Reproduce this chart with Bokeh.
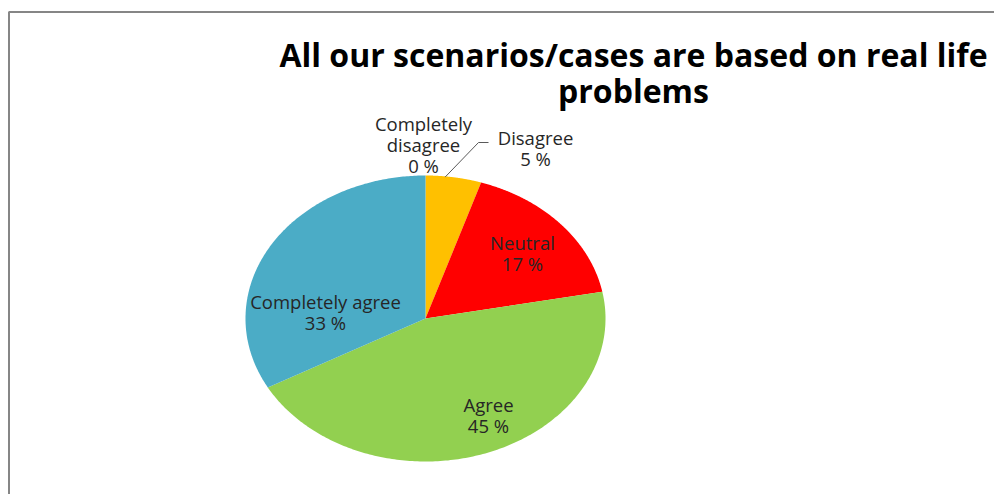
import numpy as np
from bokeh.plotting import figure
from bokeh.models import Range1d
from bokeh.core.properties import value
from bokeh.embed import file_html
from bokeh.resources import INLINE

# ---- data ----
categories = ["Completely disagree", "Disagree", "Neutral", "Agree", "Completely agree"]
percents = [0, 5, 17, 45, 33]
colors = ["#7F7F7F", "#FFC000", "#FF0000", "#92D050", "#4BACC6"]
title_lines = ["All our scenarios/cases are based on real life", "problems"]

# ---- layout ----
W, H = 994, 494
CX, CY, RX, RY = 425, 318, 180, 143
label_pos = {
    "Completely disagree": (423, 144),
    "Disagree": (535, 147),
    "Neutral": (522, 252),
    "Agree": (488, 414),
    "Completely agree": (325, 311),
}

p = figure(width=W, height=H, output_backend="svg", toolbar_location=None,
           x_range=Range1d(0, W), y_range=Range1d(H, 0), min_border=0)
p.axis.visible = False
p.grid.visible = False
p.outline_line_color = None
p.background_fill_color = "white"
p.border_fill_color = "white"

# outer chart border (right/bottom edges fall outside the window)
p.quad(left=[8.5], right=[W + 50], top=[11.5], bottom=[H + 50],
       fill_color=None, line_color="#868686", line_width=2)

# pie slices as elliptical patches
total = float(sum(percents))
cum = np.concatenate([[0], np.cumsum(percents)]) / total
xs, ys, cs = [], [], []
for i, pct in enumerate(percents):
    if pct == 0:
        continue
    th = np.linspace(cum[i], cum[i + 1], 200) * 2 * np.pi
    px = np.concatenate([[CX], CX + RX * np.sin(th)])
    py = np.concatenate([[CY], CY - RY * np.cos(th)])
    xs.append(list(px)); ys.append(list(py)); cs.append(colors[i])
p.patches(xs=xs, ys=ys, fill_color=cs, line_color=None)

# leader line for Disagree
th_d = (cum[1] + 0.35 * (cum[2] - cum[1])) * 2 * np.pi
p.line(x=[CX + RX * np.sin(th_d) * 0.995, 478, 488],
       y=[CY - RY * np.cos(th_d) * 0.995, 142, 142], line_color="#595959", line_width=1)

# data labels
lx, ly, lt = [], [], []
for c, v in zip(categories, percents):
    name = c.replace("Completely disagree", "Completely\ndisagree")
    lx.append(label_pos[c][0]); ly.append(label_pos[c][1])
    lt.append(f"{name}\n{v} %")
p.text(x=lx, y=ly, text=lt, text_font=value("Open Sans"), text_font_size="18.5px",
       text_color="#262626", text_align="center", text_baseline="middle",
       text_line_height=0.84)

# title
p.text(x=[633, 633], y=[54, 90], text=title_lines, text_font=value("Open Sans"),
       text_font_size="32px", text_font_style="bold", text_color="black",
       text_align="center", text_baseline="middle")

open("out.html", "w").write(file_html(p, INLINE))
